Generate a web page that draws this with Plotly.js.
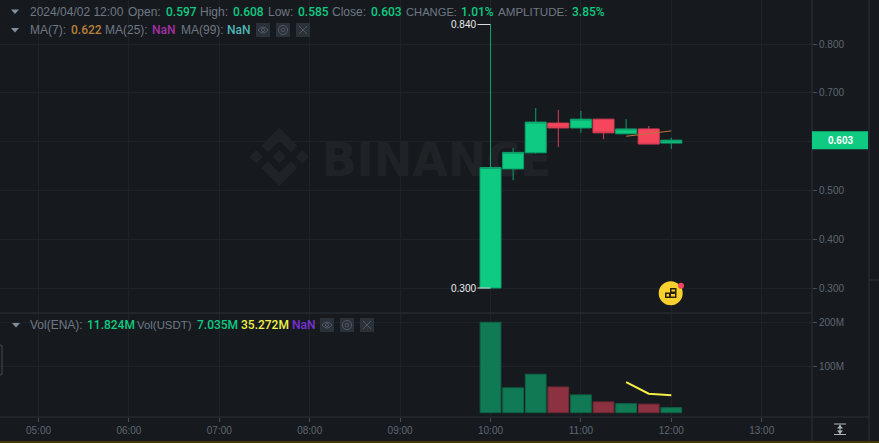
<!DOCTYPE html>
<html><head><meta charset="utf-8">
<script src="https://cdn.plot.ly/plotly-3.0.1.min.js"></script>
<style>html,body{margin:0;padding:0;background:#161a1e;overflow:hidden}#c{width:879px;height:443px}</style>
</head><body><div id="c"></div>
<script>
const times=['2024-04-02 10:00','2024-04-02 10:15','2024-04-02 10:30','2024-04-02 10:45','2024-04-02 11:00','2024-04-02 11:15','2024-04-02 11:30','2024-04-02 11:45','2024-04-02 12:00'];
const opens =[0.300,0.544,0.577,0.638,0.628,0.646,0.616,0.626,0.597];
const highs =[0.840,0.587,0.669,0.665,0.663,0.646,0.646,0.632,0.608];
const lows  =[0.300,0.521,0.575,0.589,0.618,0.605,0.616,0.595,0.585];
const closes=[0.547,0.578,0.640,0.628,0.646,0.618,0.626,0.595,0.603];
const volumes=[201e6,52e6,83e6,54e6,36e6,20e6,16e6,15e6,7.035e6];
const maTimes=['2024-04-02 11:30','2024-04-02 11:45','2024-04-02 12:00'];
const ma7=[0.611,0.617,0.622];
const volMa=[65e6,38.6e6,35.272e6];
const volBase=-4.5e6;
const priceTicks=[0.3,0.4,0.5,0.6,0.7,0.8];
const priceTickText=['0.300','0.400','0.500','','0.700','0.800'];
const volTickVals=[100e6,200e6];
const volTickText=['100M','200M'];

const UP='#0ecb81',DN='#f6465d',BG='#161a1e',GRID='#1f2329',LINE='#2b3139',TXT='#5e6673',LBL='#6f7885',WM='#1f2328';
const FONT='"Liberation Sans",Arial,sans-serif';
const W=812,H=417;
const px=x=>x/W, py=y=>1-y/H;
function poly(pts){return pts.map((p,i)=>(i?'L':'M')+px(p[0]).toFixed(5)+','+py(p[1]).toFixed(5)).join(' ')+' Z';}
function at(cx,cy,pts){return pts.map(p=>[cx+p[0],cy+p[1]]);}
function pShape(pts,fill,layer){return {type:'path',xref:'paper',yref:'paper',path:poly(pts),fillcolor:fill,line:{width:0},layer:layer||'above'};}
function pRect(x0,y0,x1,y1,fill){return {type:'rect',xref:'paper',yref:'paper',x0:px(x0),x1:px(x1),y0:py(y0),y1:py(y1),fillcolor:fill,line:{width:0},layer:'above'};}
function pLine(x0,y0,x1,y1,col,w){return {type:'line',xref:'paper',yref:'paper',x0:px(x0),x1:px(x1),y0:py(y0),y1:py(y1),line:{color:col,width:w||1},layer:'above'};}
function pCircle(cx,cy,r,fill,stroke){return {type:'circle',xref:'paper',yref:'paper',x0:px(cx-r),x1:px(cx+r),y0:py(cy+r),y1:py(cy-r),fillcolor:fill,line:{color:stroke||fill,width:stroke?1:0},layer:'above'};}

// legend runs: [x, text, colour, isValue, size]
const row1=[[30.4,'2024/04/02 12:00',LBL],[128.9,'Open:',LBL],[166,'0.597',UP,1],[200.8,'High:',LBL],[233.6,'0.608',UP,1],[268.4,'Low:',LBL],[298.4,'0.585',UP,1],[332.4,'Close:',LBL],[371,'0.603',UP,1],[406,'CHANGE:',LBL,0,11.2],[461.7,'1.01%',UP,1],[498.8,'AMPLITUDE:',LBL,0,11.6],[572.7,'3.85%',UP,1]];
const row2=[[30.4,'MA(7):',LBL],[71.2,'0.622','#b9803a',1],[105,'MA(25):',LBL],[152,'NaN','#a32fa3',1],[181,'MA(99):',LBL],[227.5,'NaN','#4fb4b4',1]];
const row3=[[30,'Vol(ENA):',LBL],[87.7,'11.824M',UP,1],[137.7,'Vol(USDT)',LBL,0,11.4],[197.7,'7.035M',UP,1],[241.7,'35.272M','#f0f04a',1],[292.7,'NaN','#7a30d8',1]];

const shapes=[];
// watermark
const wmC=[279.3,156.7];
shapes.push(pShape(at(wmC[0],wmC[1],[[0,-29],[18,-11],[11.5,-4.5],[0,-16],[-11.5,-4.5],[-18,-11]]),WM,'below'));
shapes.push(pShape(at(wmC[0],wmC[1],[[0,29],[18,11],[11.5,4.5],[0,16],[-11.5,4.5],[-18,11]]),WM,'below'));
[[0,0],[-23,0],[23,0]].forEach(o=>shapes.push(pShape(at(wmC[0]+o[0],wmC[1]+o[1],[[0,-6.7],[6.7,0],[0,6.7],[-6.7,0]]),WM,'below')));
shapes.push({type:'rect',xref:'paper',yref:'paper',x0:px(323),x1:px(550),y0:py(173),y1:py(140),fillcolor:'rgba(0,0,0,0)',line:{width:0},layer:'below',
  label:{text:'<b>BINANCE</b>',font:{family:'"DejaVu Sans"',size:46,color:WM},textposition:'middle center'}});
// frame lines
shapes.push(pLine(0,313,W,313,LINE),pLine(812,0,812,441,LINE),pLine(869,0,869,441,LINE),pLine(869,280,879,280,LINE),pLine(0,417,869,417,LINE));
shapes.push(pRect(0,441,879,443,'#45350d'));
// high / low dashes
const hiIdx=highs.indexOf(Math.max(...highs)),loIdx=lows.indexOf(Math.min(...lows));
[[hiIdx,highs[hiIdx]],[loIdx,lows[loIdx]]].forEach(h=>shapes.push({type:'line',xref:'x',yref:'y',xsizemode:'pixel',xanchor:times[h[0]],x0:-13,x1:0,y0:h[1],y1:h[1],line:{color:'#d8dce2',width:1},layer:'above'}));
// last price tag
shapes.push({type:'rect',xref:'paper',yref:'y',ysizemode:'pixel',yanchor:closes[8],y0:-9,y1:9,x0:1,x1:px(868),fillcolor:UP,line:{width:0},layer:'above'});
// floating coin icon
shapes.push(pCircle(670.7,293.3,12,'#f8d12f'));
shapes.push(pCircle(681,285.7,3,'#f6465d'));
shapes.push(pShape([[670,288],[676.5,288],[676.5,298],[665,298],[665,292.5],[670,292.5]],'#2a2205'));
shapes.push(pRect(671.5,289.5,675,291.5,'#f8d12f'),pRect(666.5,294,669,296.5,'#f8d12f'),pRect(671,294,675,296.5,'#f8d12f'));
// legend triangles
[[15,11.5],[15,30],[16,325]].forEach(t=>shapes.push(pShape([[t[0]-4,t[1]-2],[t[0]+4,t[1]-2],[t[0],t[1]+2.5]],'#848e9c')));
// legend control buttons
function buttons(xs,y){
  xs.forEach((x,i)=>{
    shapes.push(pRect(x,y,x+14,y+14,'#2b3139'));
    const cx=x+7,cy=y+7,c='#4f5763';
    if(i==0){shapes.push({type:'path',xref:'paper',yref:'paper',path:`M${px(cx-5)},${py(cy)} Q${px(cx)},${py(cy-6)} ${px(cx+5)},${py(cy)} Q${px(cx)},${py(cy+6)} ${px(cx-5)},${py(cy)} Z`,fillcolor:'rgba(0,0,0,0)',line:{color:c,width:1},layer:'above'});shapes.push(pCircle(cx,cy,1.6,'rgba(0,0,0,0)',c));}
    if(i==1){shapes.push(pCircle(cx,cy,4.6,'rgba(0,0,0,0)',c),pCircle(cx,cy,1.8,'rgba(0,0,0,0)',c));}
    if(i==2){shapes.push(pLine(cx-4,cy-4,cx+4,cy+4,c),pLine(cx-4,cy+4,cx+4,cy-4,c));}
  });
}
buttons([256,276,296],23);
buttons([320,340,360],318);
// left-edge handle
shapes.push({type:'path',xref:'paper',yref:'paper',path:`M${px(0)},${py(345)} L${px(1)},${py(345)} Q${px(2)},${py(345)} ${px(2)},${py(347)} L${px(2)},${py(373)} Q${px(2)},${py(375)} ${px(1)},${py(375)} L${px(0)},${py(375)}`,line:{color:'#474d57',width:1},layer:'above'});
// auto-scale icon
const ic='#aeb4bc';
shapes.push(pLine(834,424,846,424,ic),pLine(834,434.5,846,434.5,ic),pLine(840,424.5,840,434,ic));
shapes.push(pShape([[840,425],[843,428.5],[837,428.5]],ic),pShape([[840,434],[843,430.5],[837,430.5]],ic));

const legendRow=(runs,y)=>runs.map(r=>({xref:'paper',yref:'paper',x:px(r[0]),y:py(y),xshift:-1.5,text:r[1],showarrow:false,xanchor:'left',yanchor:'middle',align:'left',borderpad:0,
   font:r[3]?{family:'Roboto,'+FONT,size:12,weight:500,color:r[2]}:{family:FONT,size:r[4]||12,color:r[2]}}));
const annotations=[...legendRow(row1,11.5),...legendRow(row2,30),...legendRow(row3,325),
 {xref:'x',yref:'y',x:times[hiIdx],y:highs[hiIdx],text:highs[hiIdx].toFixed(3),showarrow:false,xanchor:'right',xshift:-13,yanchor:'middle',font:{family:FONT,size:10,color:'#eaecef'}},
 {xref:'x',yref:'y',x:times[loIdx],y:lows[loIdx],text:lows[loIdx].toFixed(3),showarrow:false,xanchor:'right',xshift:-13,yanchor:'middle',font:{family:FONT,size:10,color:'#eaecef'}},
 {xref:'paper',yref:'y',x:px(840),y:closes[8],text:'<b>'+closes[8].toFixed(3)+'</b>',showarrow:false,xanchor:'center',yanchor:'middle',font:{family:FONT,size:10,color:'#ffffff'}}
];

const data=[
 {type:'candlestick',x:times,open:opens,high:highs,low:lows,close:closes,xaxis:'x',yaxis:'y',
  increasing:{line:{color:'#0c9f6b',width:1},fillcolor:UP},decreasing:{line:{color:'#d63f54',width:1},fillcolor:DN},hoverinfo:'skip'},
 {type:'scatter',mode:'lines',x:maTimes,y:ma7,xaxis:'x',yaxis:'y',line:{color:'#b9773a',width:1},hoverinfo:'skip'},
 {type:'bar',x:times,y:volumes.map(v=>v-volBase),base:volBase,xaxis:'x',yaxis:'y2',
  marker:{color:closes.map((c,i)=>c>=opens[i]?'#107a55':'#8b3140'),line:{color:closes.map((c,i)=>c>=opens[i]?'#0e5f45':'#6e2a36'),width:1}},hoverinfo:'skip'},
 {type:'scatter',mode:'lines',x:maTimes,y:volMa,xaxis:'x',yaxis:'y2',line:{color:'#f5ee48',width:2},hoverinfo:'skip'}
];
const layout={
 width:879,height:443,margin:{l:0,r:67,t:0,b:26,pad:0},paper_bgcolor:BG,plot_bgcolor:BG,showlegend:false,hovermode:false,
 boxgap:0.07,boxgroupgap:0,bargap:0.08,
 font:{family:FONT,size:10,color:TXT},
 xaxis:{type:'date',domain:[0,1],anchor:'y2',range:['2024-04-02 04:34:27','2024-04-02 13:33:22'],rangeslider:{visible:false},
  dtick:3600000,tick0:'2024-04-02 00:00',tickformat:'%H:%M',ticks:'outside',ticklen:4,tickcolor:'#474d57',showgrid:true,gridcolor:GRID,gridwidth:1,zeroline:false,showline:false,tickfont:{family:FONT,size:10,color:TXT}},
 yaxis:{domain:[py(313),1],anchor:'x',side:'right',range:[0.2488,0.8902],tickvals:priceTicks,ticktext:priceTickText,ticks:'outside',ticklen:4,tickcolor:'#474d57',showgrid:true,gridcolor:GRID,zeroline:false,showline:false,tickfont:{family:FONT,size:10,color:TXT}},
 yaxis2:{domain:[0,py(314)],anchor:'x',side:'right',range:[-14.3e6,219.8e6],tickvals:volTickVals,ticktext:volTickText,ticks:'outside',ticklen:4,tickcolor:'#474d57',showgrid:true,gridcolor:GRID,zeroline:false,showline:false,tickfont:{family:FONT,size:10,color:TXT}},
 shapes,annotations
};
Plotly.newPlot('c',data,layout,{displayModeBar:false,staticPlot:true});
</script></body></html>
